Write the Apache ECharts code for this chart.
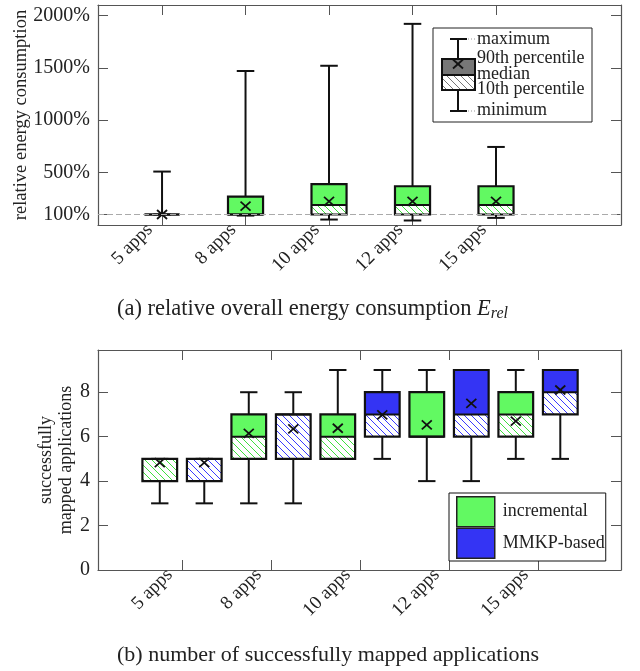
<!DOCTYPE html>
<html>
<head>
<meta charset="utf-8">
<script src="https://cdn.jsdelivr.net/npm/echarts@6/dist/echarts.min.js"></script>
<style>html,body{margin:0;padding:0;background:#fff}#chart{width:640px;height:671px}</style>
</head>
<body>
<div id="chart"></div>
<script>
// categories and ticks
const APPS = ['5 apps', '8 apps', '10 apps', '12 apps', '15 apps'];
const ENERGY_TICKS = [100, 500, 1000, 1500, 2000];
const MAPPED_TICKS = [0, 2, 4, 6, 8];

// (a) relative energy consumption in %
const energyMin = [100, 90, 52, 43, 68];
const energyP10 = [100, 100, 100, 100, 100];
const energyMedian = [100, 100, 190, 190, 190];
const energyP90 = [100, 270, 390, 370, 370];
const energyMax = [510, 1470, 1520, 1920, 745];
const energyMean = [100, 180, 225, 225, 225];

// (b) successfully mapped applications, incremental
const incMin = [3, 3, 5, 4, 5];
const incP10 = [4, 5, 5, 6, 6];
const incMedian = [5, 6, 6, 6, 7];
const incP90 = [5, 7, 7, 8, 8];
const incMax = [5, 8, 9, 9, 9];
const incMean = [4.83, 6.15, 6.38, 6.53, 6.7];

// (b) successfully mapped applications, MMKP-based
const mmkpMin = [3, 3, 5, 4, 5];
const mmkpP10 = [4, 5, 6, 6, 7];
const mmkpMedian = [5, 7, 7, 7, 8];
const mmkpP90 = [5, 7, 8, 9, 9];
const mmkpMax = [5, 8, 9, 9, 9];
const mmkpMean = [4.83, 6.35, 6.98, 7.5, 8.1];

const GREEN = '#62f962';
const BLUE = '#3434f4';
const FONT = 'Liberation Serif';
const FRAME = '#555';

function makeHatch(color) {
  const c = document.createElement('canvas');
  c.width = 7; c.height = 7;
  const g = c.getContext('2d');
  g.fillStyle = '#fff';
  g.fillRect(0, 0, 7, 7);
  g.strokeStyle = color;
  g.lineWidth = 1;
  g.beginPath();
  g.moveTo(-1, -1); g.lineTo(8, 8);
  g.moveTo(-1, 6); g.lineTo(1, 8);
  g.moveTo(6, -1); g.lineTo(8, 1);
  g.stroke();
  return c;
}
const hatchGreen = makeHatch('#3fe03f');
const hatchBlue = makeHatch('#3a3aff');
const hatchGrey = makeHatch('#777');

function boxData(offset, min, p10, med, p90, max, mean) {
  return APPS.map((_, i) => [i + 1 + offset, min[i], p10[i], med[i], p90[i], max[i], mean[i]]);
}

function line(x1, y1, x2, y2, w, color) {
  return {type: 'line', shape: {x1, y1, x2, y2}, style: {stroke: color || '#111', lineWidth: w}};
}

function renderBox(boxW, color, hatch) {
  return function (params, api) {
    const x = api.value(0);
    const at = v => api.coord([x, v]);
    const cx = at(api.value(2))[0];
    const half = api.size([boxW, 0])[0] / 2;
    const cap = half * 0.5;
    const yMin = at(api.value(1))[1];
    const y10 = at(api.value(2))[1];
    const yMed = at(api.value(3))[1];
    const y90 = at(api.value(4))[1];
    const yMax = at(api.value(5))[1];
    const yMean = at(api.value(6))[1];
    return {
      type: 'group',
      children: [
        line(cx, yMin, cx, y10, 2),
        line(cx - cap, yMin, cx + cap, yMin, 2),
        line(cx, y90, cx, yMax, 2),
        line(cx - cap, yMax, cx + cap, yMax, 2),
        {type: 'rect', shape: {x: cx - half, y: yMed, width: half * 2, height: y10 - yMed},
          style: {fill: {image: hatch, repeat: 'repeat'}}},
        {type: 'rect', shape: {x: cx - half, y: y90, width: half * 2, height: yMed - y90},
          style: {fill: color}},
        {type: 'rect', shape: {x: cx - half, y: y90, width: half * 2, height: y10 - y90},
          style: {fill: 'none', stroke: '#111', lineWidth: 2.2}},
        line(cx - half, yMed, cx + half, yMed, 2),
        line(cx - 5, yMean - 4.5, cx + 5, yMean + 4.5, 1.8),
        line(cx - 5, yMean + 4.5, cx + 5, yMean - 4.5, 1.8)
      ]
    };
  };
}

function valueAxis(grid, pos, min, max, ticks, labels, formatter) {
  const horiz = pos === 'bottom' || pos === 'top';
  return {
    type: 'value', gridIndex: grid, position: pos, min: min, max: max,
    nameMoveOverlap: false,
    axisLine: {show: true, onZero: false, lineStyle: {color: FRAME, width: 1.2}},
    axisTick: {show: true, inside: true, length: 10, customValues: ticks, lineStyle: {color: FRAME, width: 1}},
    axisLabel: horiz ? {
      show: labels, customValues: ticks, formatter: formatter, rotate: 45,
      margin: 3, verticalAlign: 'bottom', padding: [0, 8, 0, 0],
      color: '#222', fontFamily: FONT, fontSize: 19
    } : {
      show: labels, customValues: ticks, formatter: formatter,
      margin: 8, color: '#222', fontFamily: FONT, fontSize: 20
    },
    splitLine: {show: false}
  };
}

const appLabel = v => APPS[Math.round(v) - 1];
const chart = echarts.init(document.getElementById('chart'));

const yTop = valueAxis(0, 'left', 0, 2100, ENERGY_TICKS, true, v => v + '%');
yTop.name = 'relative energy consumption';
yTop.nameLocation = 'middle';
yTop.nameGap = 67;
yTop.nameTextStyle = {fontFamily: FONT, fontSize: 18.5, color: '#222'};

const yBottom = valueAxis(1, 'left', 0, 9.9, MAPPED_TICKS, true, v => String(v));
yBottom.name = 'successfully\nmapped applications';
yBottom.nameLocation = 'middle';
yBottom.nameGap = 22;
yBottom.nameTextStyle = {fontFamily: FONT, fontSize: 18, color: '#222', lineHeight: 20};

const legendLabel = (text, y) => ({
  type: 'text', x: 477, y: y,
  style: {text: text, font: '18px "Liberation Serif"', fill: '#222', textVerticalAlign: 'middle'}
});

chart.setOption({
  animation: false,
  grid: [
    {left: 98, top: 5, width: 523, height: 220, outerBoundsMode: 'none', containLabel: false},
    {left: 98, top: 350, width: 523, height: 220, outerBoundsMode: 'none', containLabel: false}
  ],
  xAxis: [
    valueAxis(0, 'bottom', 0.233, 6.497, [1, 2, 3, 4, 5], true, appLabel),
    valueAxis(0, 'top', 0.233, 6.497, [1, 2, 3, 4, 5], false),
    valueAxis(1, 'bottom', 0.056, 5.932, [1, 2, 3, 4, 5], true, appLabel),
    valueAxis(1, 'top', 0.056, 5.932, [1, 2, 3, 4, 5], false)
  ],
  yAxis: [
    yTop,
    valueAxis(0, 'right', 0, 2100, ENERGY_TICKS, false),
    yBottom,
    valueAxis(1, 'right', 0, 9.9, MAPPED_TICKS, false)
  ],
  legend: {
    orient: 'vertical', left: 449, top: 493,
    padding: [3, 1, 2, 7], itemGap: 0, itemWidth: 38, itemHeight: 30,
    borderColor: '#111', borderWidth: 1, backgroundColor: '#fff',
    textStyle: {fontFamily: FONT, fontSize: 18, color: '#222', padding: [0, 0, 0, 3]},
    data: [
      {name: 'incremental', icon: 'rect', itemStyle: {color: GREEN, borderColor: '#222', borderWidth: 1.5}},
      {name: 'MMKP-based', icon: 'rect', itemStyle: {color: BLUE, borderColor: '#222', borderWidth: 1.5}}
    ]
  },
  series: [
    {
      type: 'custom', name: 'energy', xAxisIndex: 0, yAxisIndex: 0,
      renderItem: renderBox(0.42, GREEN, hatchGreen),
      encode: {x: 0, y: [1, 2, 3, 4, 5, 6]},
      data: boxData(0, energyMin, energyP10, energyMedian, energyP90, energyMax, energyMean),
      markLine: {
        silent: true, symbol: ['none', 'none'], label: {show: false},
        lineStyle: {color: '#aaa', type: [6, 3], width: 1},
        data: [{yAxis: 100}]
      },
      z: 3
    },
    {
      type: 'custom', name: 'incremental', xAxisIndex: 2, yAxisIndex: 2,
      itemStyle: {color: GREEN},
      renderItem: renderBox(0.39, GREEN, hatchGreen),
      encode: {x: 0, y: [1, 2, 3, 4, 5, 6]},
      data: boxData(-0.25, incMin, incP10, incMedian, incP90, incMax, incMean)
    },
    {
      type: 'custom', name: 'MMKP-based', xAxisIndex: 2, yAxisIndex: 2,
      itemStyle: {color: BLUE},
      renderItem: renderBox(0.39, BLUE, hatchBlue),
      encode: {x: 0, y: [1, 2, 3, 4, 5, 6]},
      data: boxData(0.25, mmkpMin, mmkpP10, mmkpMedian, mmkpP90, mmkpMax, mmkpMean)
    }
  ],
  graphic: [
    // legend of panel (a)
    {type: 'group', z: 11, children: [
      {type: 'rect', shape: {x: 433, y: 28, width: 159, height: 94}, style: {fill: '#fff', stroke: '#222', lineWidth: 1}},
      line(458, 39, 458, 59, 2), line(450, 39, 467, 39, 2),
      line(458, 90, 458, 111, 2), line(450, 111, 467, 111, 2),
      {type: 'rect', shape: {x: 442, y: 59, width: 33, height: 16}, style: {fill: '#777'}},
      {type: 'rect', shape: {x: 442, y: 75, width: 33, height: 15}, style: {fill: {image: hatchGrey, repeat: 'repeat'}}},
      {type: 'rect', shape: {x: 442, y: 59, width: 33, height: 31}, style: {fill: 'none', stroke: '#111', lineWidth: 2}},
      line(442, 75, 475, 75, 2),
      line(453, 59.5, 463, 68.5, 1.8), line(453, 68.5, 463, 59.5, 1.8),
      {type: 'line', shape: {x1: 468, y1: 39, x2: 476, y2: 39}, style: {stroke: '#999', lineWidth: 1, lineDash: [1, 2]}},
      {type: 'line', shape: {x1: 468, y1: 111, x2: 476, y2: 111}, style: {stroke: '#999', lineWidth: 1, lineDash: [1, 2]}},
      legendLabel('maximum', 39),
      legendLabel('90th percentile', 58),
      legendLabel('median', 74),
      legendLabel('10th percentile', 89),
      legendLabel('minimum', 110)
    ]},
    // captions
    {type: 'text', x: 117, y: 309, z: 10, style: {
      text: '(a) relative overall energy consumption {e|E}{s|rel}',
      font: '22.5px "Liberation Serif"', fill: '#222', textAlign: 'left', textVerticalAlign: 'middle',
      rich: {
        e: {fontFamily: FONT, fontSize: 22.5, fontStyle: 'italic', fill: '#222'},
        s: {fontFamily: FONT, fontSize: 16, fontStyle: 'italic', fill: '#222', padding: [10, 0, 0, 0]}
      }
    }},
    {type: 'text', x: 117, y: 655, z: 10, style: {
      text: '(b) number of successfully mapped applications',
      font: '22px "Liberation Serif"', fill: '#222', textAlign: 'left', textVerticalAlign: 'middle'
    }}
  ]
});
</script>
</body>
</html>
